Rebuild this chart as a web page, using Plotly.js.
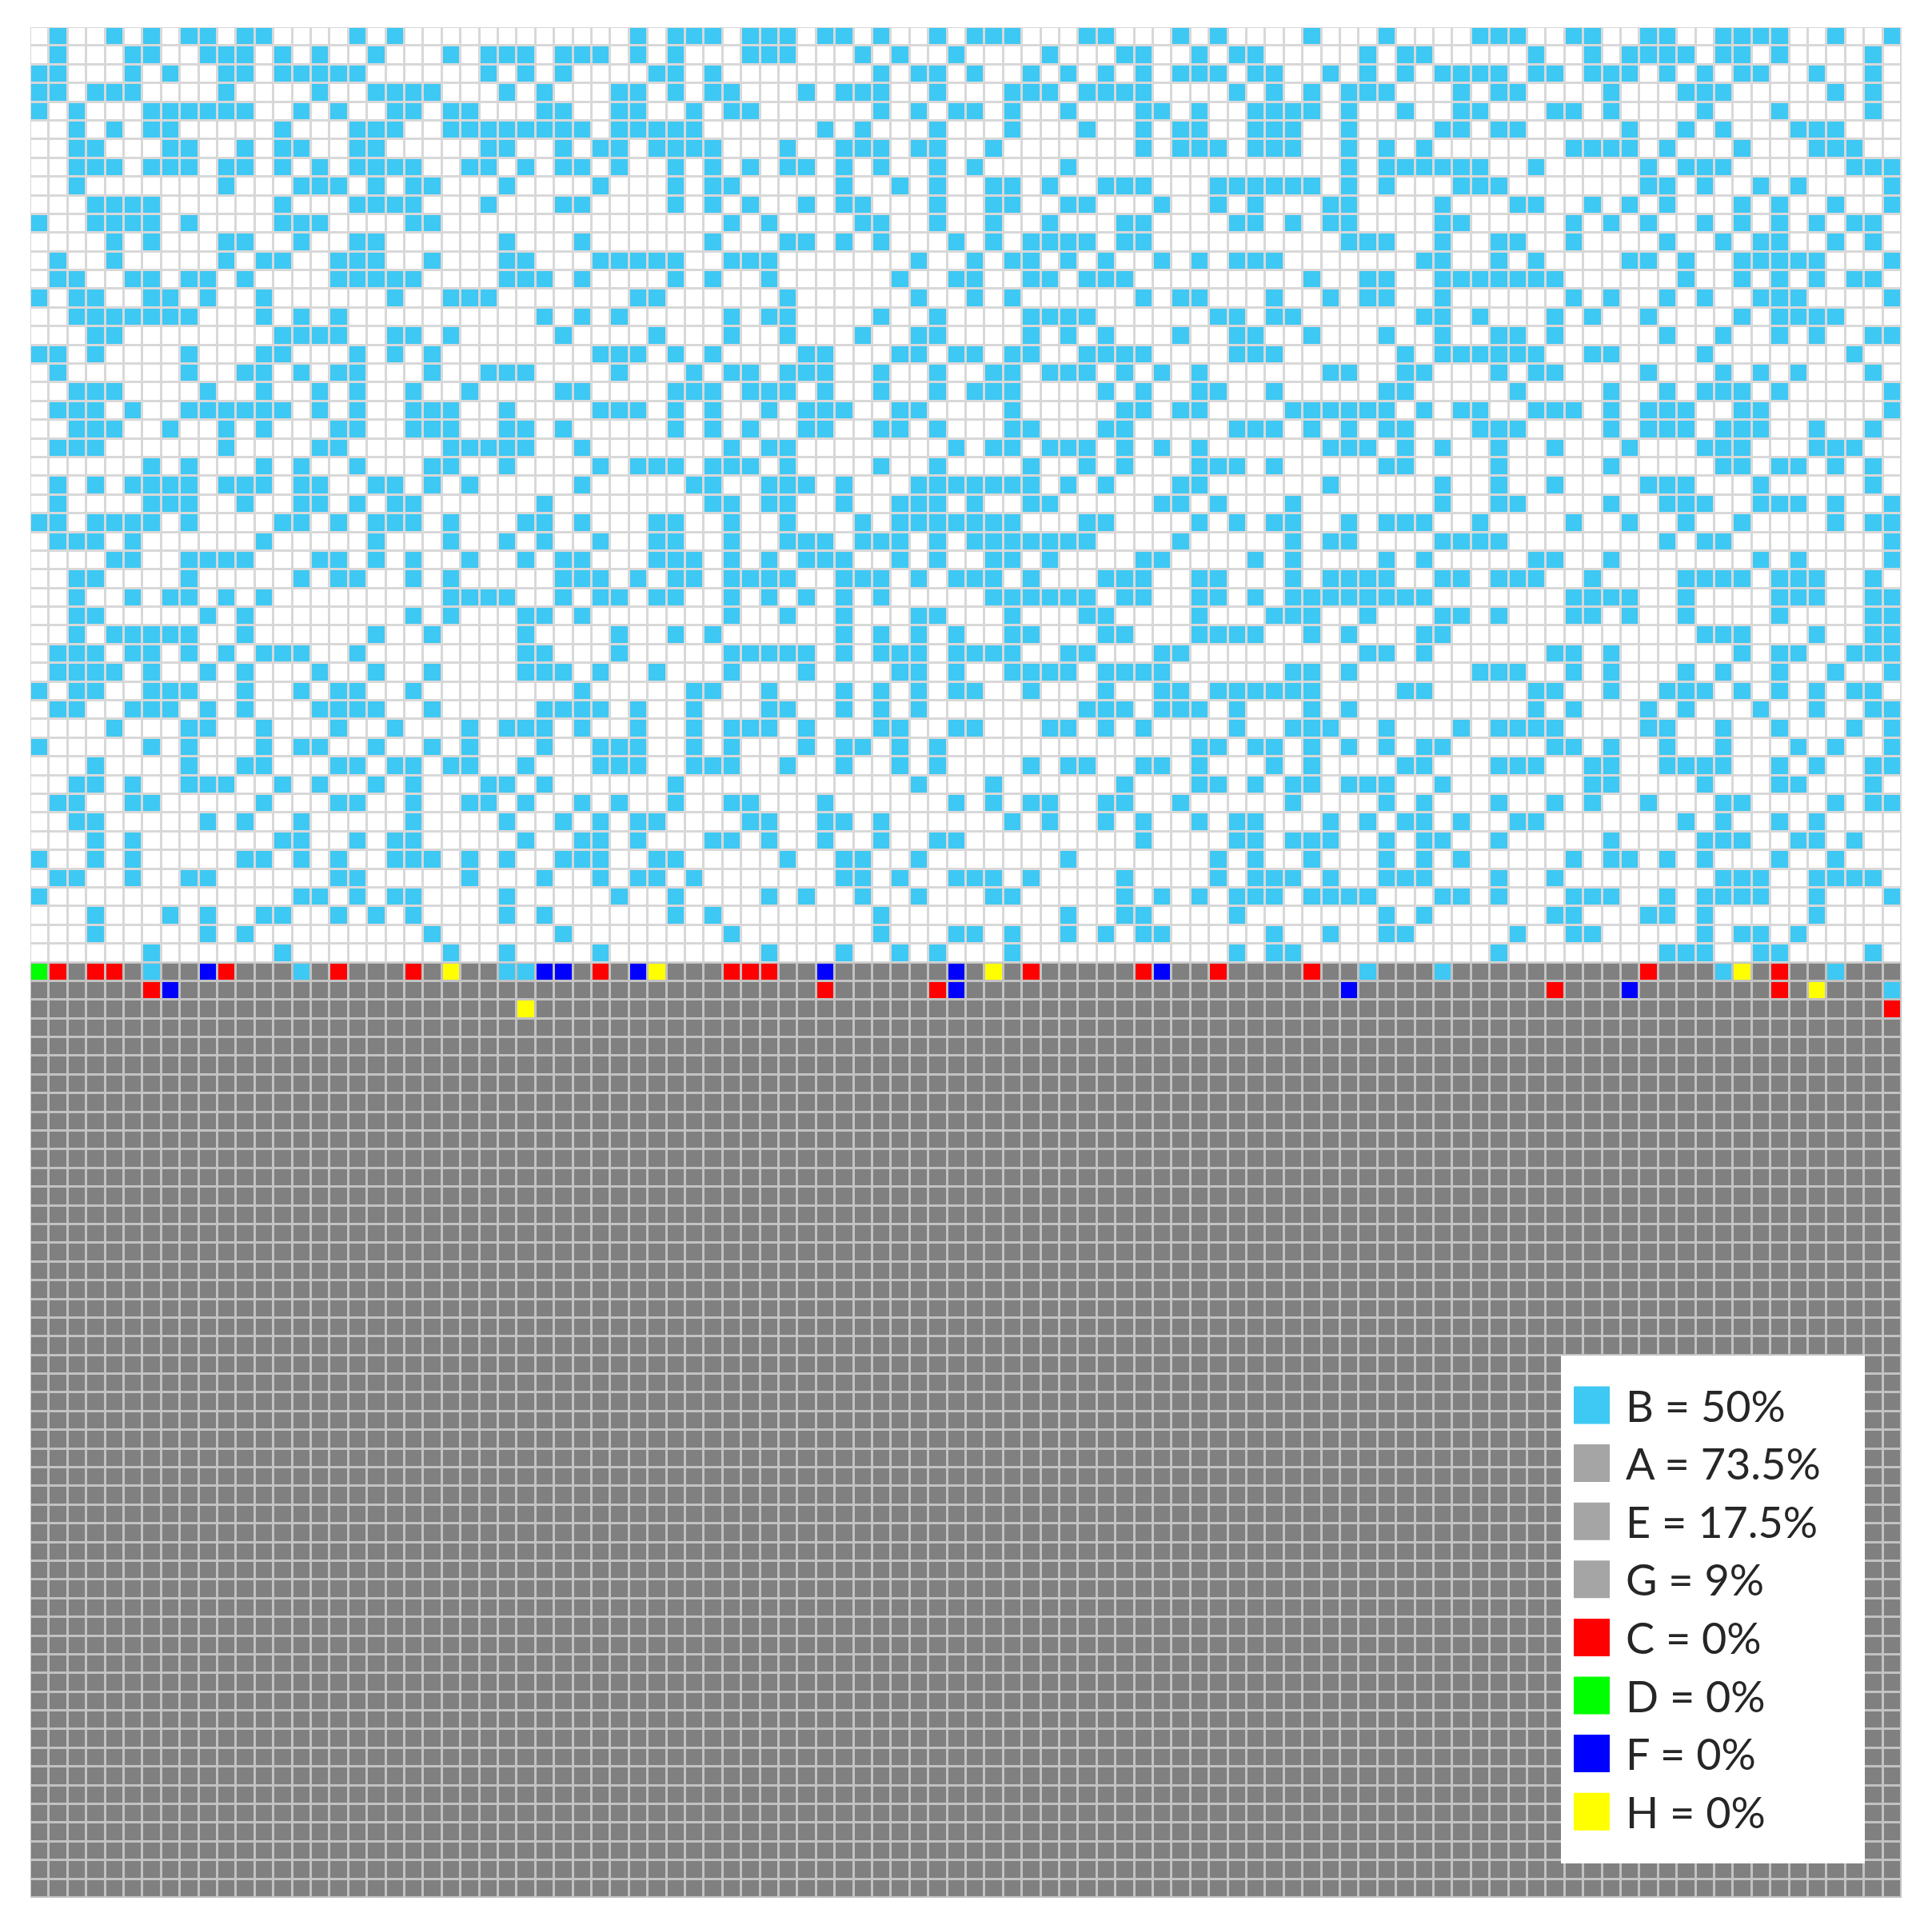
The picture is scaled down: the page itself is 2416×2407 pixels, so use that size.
<!DOCTYPE html>
<html>
<head>
<meta charset="utf-8">
<script src="https://cdn.plot.ly/plotly-3.0.1.min.js"></script>
<style>html,body{margin:0;padding:0;background:#fff;}#chart{width:2416px;height:2407px;}</style>
</head>
<body>
<div id="chart"></div>
<script>
// ---- DATA ----
const nCols = 100;
const nRows = 100;
const filledRows = 50;           // rows 0..49 are the "B" area (white/cyan), 50..99 gray
// cyan (B) columns for each of the top 50 rows
const cyanCols = [
 [1,4,6,8,9,11,12,17,19,32,34,35,36,38,39,40,42,43,45,48,50,51,52,56,57,61,63,68,72,77,78,79,82,83,86,87,90,91,92,93,96,99],
 [1,5,6,9,10,11,13,15,18,22,24,25,26,28,29,30,32,34,38,39,40,44,46,49,54,58,59,62,64,65,71,73,74,80,83,85,86,87,88,90,91,93,98],
 [0,1,5,7,10,11,13,14,15,16,17,24,26,28,33,34,36,45,47,48,50,53,55,57,59,61,62,63,65,66,69,71,73,75,76,77,78,80,81,83,84,85,87,89,91,92,95,98],
 [0,1,3,4,5,10,15,18,19,20,21,25,27,31,32,34,36,37,41,43,44,45,48,52,53,54,56,57,58,59,64,66,68,70,71,72,76,78,79,84,88,89,90,96,98],
 [0,2,6,7,8,9,10,11,14,16,19,20,22,23,27,28,31,32,35,37,38,45,47,49,50,52,55,59,60,62,65,66,67,68,70,73,76,77,81,82,84,89,93,98],
 [2,4,6,7,13,17,18,19,22,23,24,25,26,27,28,29,31,32,33,34,35,42,44,48,52,56,59,61,62,65,66,67,70,75,76,78,79,85,88,90,94,95,96],
 [2,3,7,8,11,13,14,17,18,24,25,28,30,31,33,34,35,36,40,43,44,45,47,48,51,59,61,62,63,65,66,67,70,72,74,82,83,84,85,87,91,95,96,97],
 [2,3,4,6,7,8,10,11,13,15,17,18,19,20,23,24,26,28,29,31,34,36,38,40,41,43,45,48,50,55,70,72,73,74,75,76,77,80,86,88,89,90,97,98,99],
 [2,10,14,15,16,18,20,21,25,30,34,36,37,43,46,48,51,52,54,57,58,59,63,64,65,66,67,68,70,72,76,77,78,86,87,89,92,94,99],
 [3,4,5,6,13,17,18,19,20,24,28,29,34,36,38,41,43,44,48,51,52,55,56,60,63,65,69,70,75,79,80,83,85,87,91,93,96,99],
 [0,3,4,5,6,8,13,14,15,20,21,37,39,44,45,48,51,54,58,59,64,65,67,69,70,75,76,82,84,86,89,91,93,95,97,98],
 [4,6,10,11,14,17,18,25,29,36,40,41,43,45,49,51,53,54,55,56,58,59,70,71,72,75,78,79,82,87,90,92,93,96,98],
 [1,4,10,12,13,16,17,18,21,25,26,30,31,32,33,34,37,38,39,47,50,52,53,55,57,60,62,64,65,66,74,75,78,80,85,86,88,91,92,93,94,95,99],
 [1,2,5,6,8,9,11,16,17,18,19,20,25,26,27,29,34,36,39,46,49,50,53,54,56,57,58,68,71,72,75,76,77,78,79,80,81,88,91,93,95,97,98],
 [0,2,3,6,7,9,12,19,22,23,24,32,33,40,47,50,52,59,61,62,66,69,71,72,75,82,84,87,89,92,93,94,99],
 [2,3,4,5,6,7,8,12,14,16,27,29,31,37,39,40,45,48,53,54,55,56,63,64,66,67,74,75,77,81,83,86,91,93,94,95,96],
 [3,4,13,14,15,16,19,20,22,28,33,37,40,44,47,48,53,55,57,61,64,65,68,72,75,78,79,81,87,90,93,95,98,99],
 [0,1,3,8,12,13,17,19,21,30,31,32,34,36,41,42,46,47,49,50,52,53,56,57,58,59,64,65,66,73,75,76,77,78,79,80,83,84,89,97],
 [1,8,11,12,14,16,17,21,24,25,26,31,35,37,38,40,41,42,45,48,51,52,54,55,56,58,60,62,69,70,73,74,78,80,81,86,90,92,94,98],
 [2,3,4,9,12,15,17,20,23,28,29,34,35,36,38,39,40,42,45,48,50,51,52,57,59,62,63,66,72,73,79,84,87,89,90,91,93,99],
 [1,2,3,5,8,9,10,11,12,13,15,17,20,21,22,25,30,31,32,34,36,39,41,42,43,46,47,52,58,59,61,62,67,68,69,70,71,72,74,76,77,80,81,82,84,86,87,88,91,92,99],
 [2,3,4,7,10,12,16,17,20,21,22,25,26,28,34,36,38,41,42,45,46,48,52,53,57,58,64,65,66,68,70,72,73,77,78,79,84,86,87,88,90,91,92,95,98],
 [1,2,3,10,15,16,22,23,24,25,26,29,37,39,40,49,51,52,54,55,56,58,60,62,69,70,71,73,75,78,81,85,89,90,91,95,96,97],
 [6,8,12,14,17,21,22,25,30,32,33,34,36,37,38,40,45,48,53,56,58,62,63,64,66,72,73,78,84,90,91,93,94,96,98],
 [1,3,5,6,7,8,10,11,12,14,15,18,19,21,23,29,35,36,39,40,41,43,47,48,49,50,51,52,53,55,57,61,62,69,75,78,81,86,87,88,92,98],
 [1,6,7,8,11,14,15,17,19,20,27,36,37,39,40,43,46,47,48,50,53,54,60,61,63,67,75,78,79,84,87,88,89,92,93,94,96,99],
 [0,1,3,4,5,6,8,13,14,16,18,19,20,22,26,27,29,33,34,37,40,44,46,47,48,49,50,51,52,56,57,62,64,66,67,70,72,73,74,77,82,85,88,91,96,98,99],
 [1,2,3,5,12,18,22,25,27,30,33,34,37,40,41,42,44,45,46,48,50,51,52,53,54,55,56,61,67,69,70,75,76,77,78,87,89,90,99],
 [4,5,8,9,10,11,15,16,18,20,23,26,28,29,33,34,35,37,39,41,42,43,46,48,51,52,54,59,60,65,67,72,74,80,81,84,92,94,99],
 [2,3,8,14,16,17,20,22,28,29,30,32,34,35,37,38,39,40,43,44,45,47,49,50,51,53,57,58,59,62,63,67,69,70,71,72,75,76,78,79,80,83,88,89,90,91,93,94,95,98],
 [2,5,7,8,10,12,22,23,24,25,28,30,31,33,34,37,39,41,43,45,51,52,53,54,55,56,58,59,62,63,65,67,68,69,70,71,72,73,74,82,83,84,85,88,93,94,95,98,99],
 [2,3,9,11,20,22,26,27,29,37,40,43,47,48,52,56,57,62,66,67,68,71,75,76,78,82,83,85,88,93,98,99],
 [2,4,5,6,7,8,11,18,21,26,31,34,36,43,45,47,49,52,53,57,58,62,63,64,65,68,70,74,75,89,90,91,95,98,99],
 [1,2,3,5,6,8,10,12,13,14,17,26,27,31,37,38,39,40,41,43,45,46,47,49,50,51,52,55,56,60,61,71,72,74,81,82,84,91,93,94,97,98,99],
 [1,2,3,4,6,9,11,15,18,21,26,27,28,30,33,37,41,46,47,49,52,53,54,55,57,58,59,60,67,68,70,77,78,79,82,84,88,90,93,96,99],
 [0,2,3,6,7,8,11,14,16,17,20,29,35,36,39,43,45,47,49,50,53,57,60,61,63,64,65,66,67,68,73,74,80,81,84,87,88,89,91,93,95,97,98],
 [1,2,5,6,7,9,11,15,16,17,18,21,27,28,29,30,32,35,39,40,43,45,47,56,57,58,60,61,62,64,68,70,80,82,86,88,92,95,98,99],
 [4,8,9,12,16,19,23,25,26,27,29,32,35,37,38,39,41,45,46,49,50,54,55,57,59,64,67,68,69,72,76,78,79,80,81,86,87,90,93,97,99],
 [0,6,8,12,14,15,18,21,23,27,30,31,32,35,37,41,43,44,46,48,62,63,65,66,68,70,72,74,75,81,82,84,87,90,94,96,99],
 [3,8,11,12,16,17,19,20,22,23,26,30,31,32,35,36,37,40,43,46,48,53,55,56,59,60,62,66,68,73,74,78,79,80,83,84,87,88,89,90,93,95,98,99],
 [2,3,5,8,9,10,13,15,18,20,24,25,27,34,47,51,58,62,63,65,67,68,70,71,72,75,83,84,89,93,94,98],
 [1,2,5,6,12,16,17,20,23,24,26,29,31,34,37,38,42,49,51,53,54,57,58,61,67,72,74,78,81,83,86,90,91,96,98,99],
 [2,3,9,11,14,20,25,28,30,32,33,38,39,42,43,45,52,54,57,59,62,64,65,69,71,73,74,76,79,80,88,90,93,95],
 [3,5,13,14,17,19,20,26,29,30,32,36,37,39,42,45,48,49,59,64,65,67,68,69,72,74,75,78,84,89,90,91,94,95,97],
 [0,3,5,11,12,14,16,19,20,21,23,25,28,29,30,33,34,40,43,44,47,55,63,65,68,72,74,76,82,84,85,87,89,93,96],
 [1,2,5,8,9,16,17,23,27,30,32,33,35,43,44,46,49,50,51,53,58,63,65,66,67,69,72,73,74,78,81,90,91,92,95,96,97,98],
 [0,14,15,17,19,20,25,31,34,39,41,44,47,51,52,58,60,62,64,65,66,68,69,70,71,75,76,78,82,83,84,87,89,90,91,92,95,99],
 [3,7,9,12,13,16,18,20,25,27,34,36,45,55,58,59,64,72,74,81,82,86,87,89,95],
 [3,9,11,21,28,37,45,49,50,52,55,57,59,60,66,69,72,73,79,82,83,89,91,92,94],
 [6,13,22,25,30,39,43,46,48,52,64,66,67,78,87,88,89,92,93,98]
];
// coloured cells at the top of the gray block
const specialRows = [50,50,50,50,50,50,50,50,50,50,50,50,50,50,50,50,50,50,50,50,50,50,50,50,50,50,50,50,50,50,50,50,50,50,50,50,
                     51,51,51,51,51,51,51,51,51,51,51, 52,52];
const specialCols = [0,1,3,4,6,9,10,14,16,20,22,25,26,27,28,30,32,33,37,38,39,42,49,51,53,59,60,63,68,71,75,86,90,91,93,96,
                     6,7,42,48,49,70,81,85,93,95,99, 26,99];
const specialCats = ['D','C','C','C','B','F','C','B','C','C','H','B','B','F','F','C','F','H','C','C','C','F','F','H','C','C','F','C','C','B','B','C','B','H','C','B',
                     'C','F','C','C','F','F','C','F','C','H','B', 'H','C'];
// legend
const legendCats = ['B','A','E','G','C','D','F','H'];
const legendPct  = [50, 73.5, 17.5, 9, 0, 0, 0, 0];

// ---- STYLE ----
const cellCode = {empty:0, B:1, gray:2, C:3, D:4, F:5, H:6};
const codeColors = ['#FFFFFF','#3EC8F4','#808080','#FF0000','#00FF00','#0000FF','#FFFF00'];
const legendColors = {B:'#3EC8F4', A:'#A5A5A5', E:'#A5A5A5', G:'#A5A5A5', C:'#FF0000', D:'#00FF00', F:'#0000FF', H:'#FFFF00'};

// ---- BUILD Z ----
const z = [];
for (let r = 0; r < nRows; r++) {
  const row = new Array(nCols).fill(r < filledRows ? cellCode.empty : cellCode.gray);
  z.push(row);
}
cyanCols.forEach((cols, r) => cols.forEach(c => { z[r][c] = cellCode.B; }));
specialRows.forEach((r, i) => { z[r][specialCols[i]] = cellCode[specialCats[i]]; });

const xs = Array.from({length:nCols}, (_, i) => i);
const ys = Array.from({length:nRows}, (_, i) => i);
const colorscale = codeColors.map((c, i) => [i / (codeColors.length - 1), c]);

const trace = {
  type: 'heatmap', z: z, x: xs, y: ys,
  zmin: 0, zmax: codeColors.length - 1,
  colorscale: colorscale, showscale: false,
  xgap: 3, ygap: 3, hoverinfo: 'skip'
};

// ---- LAYOUT ----
const W = 2416, H = 2407;
const M = {l:38, r:38, t:34, b:34};
const pw = W - M.l - M.r, ph = H - M.t - M.b;
const px = v => (v - M.l) / pw;
const py = v => 1 - (v - M.t) / ph;

const shapes = [
  {type:'rect', xref:'x', yref:'y', x0:-0.5, x1:nCols-0.5, y0:filledRows-0.5, y1:nRows-0.5,
   fillcolor:'#C2C2C2', line:{width:0}, layer:'below'},
  {type:'rect', xref:'paper', yref:'paper', x0:px(1952), x1:px(2332), y0:py(2330), y1:py(1695),
   fillcolor:'#FFFFFF', line:{width:0}, layer:'above'}
];
const annotations = [];
const sw = 45, sh = 47, x0 = 1968, yc0 = 1757, step = 72.6, tx = 2031;
legendCats.forEach((cat, i) => {
  const yc = yc0 + i * step;
  shapes.push({type:'rect', xref:'paper', yref:'paper', x0:px(x0), x1:px(x0+sw), y0:py(yc+sh/2), y1:py(yc-sh/2),
               fillcolor:legendColors[cat], line:{width:0}, layer:'above'});
  annotations.push({xref:'paper', yref:'paper', x:px(tx), y:py(yc), xanchor:'left', yanchor:'middle',
                    text: cat + ' = ' + legendPct[i] + '%', showarrow:false,
                    font:{family:'Lato, "Open Sans", sans-serif', size:54, color:'#262626'}});
});

const layout = {
  width: W, height: H, margin: {l:M.l, r:M.r, t:M.t, b:M.b, pad:0},
  paper_bgcolor:'#FFFFFF', plot_bgcolor:'#D8D8D8',
  xaxis:{range:[-0.5, nCols-0.5], visible:false, fixedrange:true},
  yaxis:{range:[nRows-0.5, -0.5], visible:false, fixedrange:true},
  shapes: shapes, annotations: annotations, showlegend:false
};
Plotly.newPlot('chart', [trace], layout, {staticPlot:true, displayModeBar:false});
</script>
</body>
</html>
